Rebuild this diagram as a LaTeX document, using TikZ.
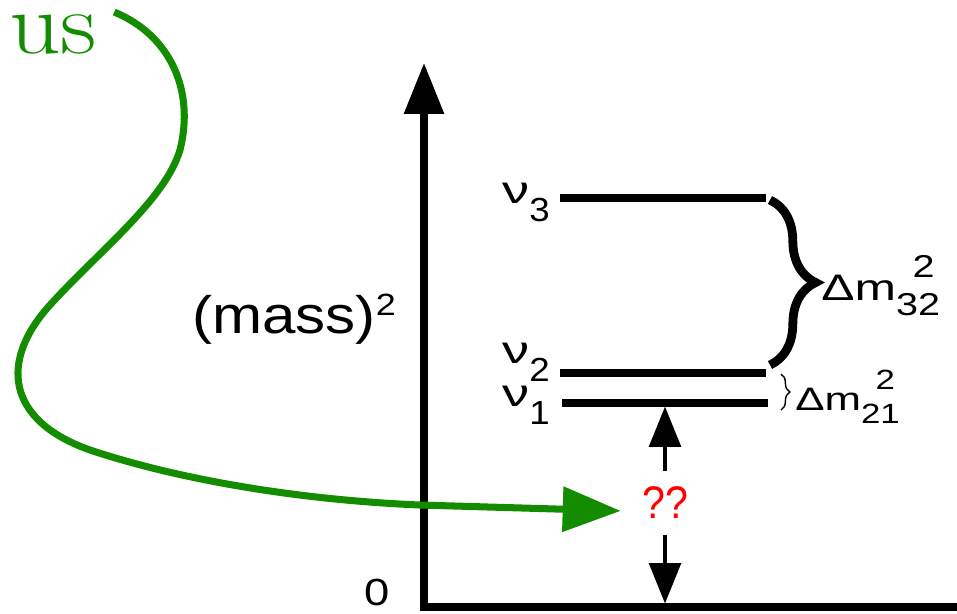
\documentclass[tikz,border=0pt]{standalone}
\usepackage{fontspec}
\setsansfont{Liberation Sans}
\usepackage{graphicx}
\usepackage{tikz}
\usetikzlibrary{arrows.meta,positioning,decorations.pathreplacing}
\definecolor{usgreen}{RGB}{20,140,0}
\newcommand{\sx}[2]{\scalebox{#1}[1]{#2}}
\newcommand{\nulvl}[1]{\sx{1.4}{ν}\raisebox{-10.5pt}{\fontsize{19}{19}\selectfont\sx{1.1}{#1}}}
\newcommand{\dmsq}[1]{\sx{1.35}{Δm}\makebox[0pt][l]{\hspace{0.45em}\raisebox{0.62em}{\fontsize{18}{18}\selectfont\sx{1.25}{2}}}\raisebox{-0.42em}{\fontsize{18}{18}\selectfont\sx{1.25}{#1}}}

\begin{document}
\begin{tikzpicture}[
  x=0.02cm, y=-0.02cm,
  axis/.style={line width=4pt, -{Triangle[length=29pt,width=22pt]}},
  level/.style={line width=4pt},
  gaparrow/.style={line width=2.2pt, -{Triangle[length=23pt,width=18pt]}, shorten >=2pt},
  usarrow/.style={usgreen, line width=4pt, -{Triangle[length=33pt,width=25pt]}},
  bigbrace/.style={decorate, decoration={brace, amplitude=26pt}, line width=5pt},
  smallbrace/.style={decorate, decoration={brace, amplitude=5pt}, line width=0.8pt},
  nulab/.style={font=\sffamily\fontsize{22}{22}\selectfont, inner sep=0pt, anchor=base west},
  dmlab/.style={font=\sffamily\fontsize{21}{21}\selectfont, inner sep=0pt, anchor=base west},
  qlab/.style={font=\sffamily\fontsize{26}{26}\selectfont, text=red, inner xsep=2pt, inner ysep=9pt}
]
\useasboundingbox (0,0) rectangle (957,613);

% Axes
\coordinate (origin) at (424,607);
\coordinate (ytop) at (424,63);
\coordinate (xend) at (957,607);
\draw[axis] (xend) -- (origin) -- (ytop);
\node[font=\sffamily\fontsize{30}{30}\selectfont, inner sep=0pt, anchor=base west] (ylab) at (192,333) {\sx{1.14}{(mass)}\raisebox{10pt}{\fontsize{17.5}{17.5}\selectfont\sx{1.17}{2}}};
\node[font=\sffamily\fontsize{21.5}{21.5}\selectfont, inner sep=0pt] (zero) at (377,592) {\sx{1.2}{0}};

% Levels
\coordinate (l3w) at (560,198); \coordinate (l3e) at (766,198);
\coordinate (l2w) at (560,373); \coordinate (l2e) at (766,373);
\coordinate (l1w) at (562,403); \coordinate (l1e) at (768,403);
\draw[level] (l3w) -- (l3e);
\draw[level] (l2w) -- (l2e);
\draw[level] (l1w) -- (l1e);
\node[nulab] (nu3) at (502,203) {\nulvl{3}};
\node[nulab] (nu2) at (502,363) {\nulvl{2}};
\node[nulab] (nu1) at (502,406) {\nulvl{1}};

% Splittings
\draw[bigbrace] (770,200) -- (770,365);
\node[dmlab] (dm32) at (821,300) {\dmsq{32}};
\draw[smallbrace] (781,374) -- (781,410);
\node[dmlab, scale=0.88] (dm21) at (795,410) {\dmsq{21}};

% Unknown offset
\node[qlab] (qq) at (665,503) {\sx{0.9}{??}};
\draw[gaparrow] (qq) -- (qq |- l1w);
\draw[gaparrow] (qq) -- (qq |- origin);

% us
\node[font=\fontsize{50}{50}\selectfont, text=usgreen, inner sep=0pt, anchor=base west] (us) at (9,53) {\sx{1.15}{us}};
\draw[usarrow] ([xshift=9.5pt,yshift=1pt]us.north east) .. controls (170,35) and (195,90) .. (180,150)
  .. controls (165,200) and (100,250) .. (50,305)
  .. controls (0,360) and (5,420) .. (90,450)
  .. controls (180,480) and (300,500) .. (420,505) -- ([xshift=-10pt,yshift=-4.5pt]qq.west);

\end{tikzpicture}
\end{document}
